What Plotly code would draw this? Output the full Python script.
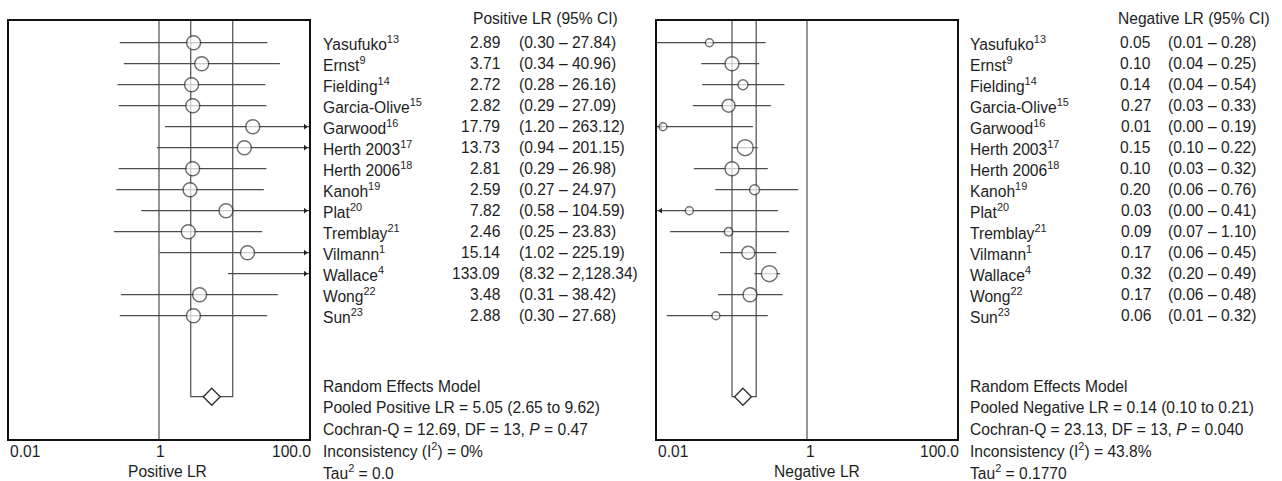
import plotly.graph_objects as go

# ---------------- data ----------------
studies = ["Yasufuko<sup>13</sup>", "Ernst<sup>9</sup>", "Fielding<sup>14</sup>",
           "Garcia-Olive<sup>15</sup>", "Garwood<sup>16</sup>", "Herth 2003<sup>17</sup>",
           "Herth 2006<sup>18</sup>", "Kanoh<sup>19</sup>", "Plat<sup>20</sup>",
           "Tremblay<sup>21</sup>", "Vilmann<sup>1</sup>", "Wallace<sup>4</sup>",
           "Wong<sup>22</sup>", "Sun<sup>23</sup>"]

# printed table values
pos_lr = [2.89, 3.71, 2.72, 2.82, 17.79, 13.73, 2.81, 2.59, 7.82, 2.46, 15.14, 133.09, 3.48, 2.88]
pos_lo = [0.30, 0.34, 0.28, 0.29, 1.20, 0.94, 0.29, 0.27, 0.58, 0.25, 1.02, 8.32, 0.31, 0.30]
pos_hi = [27.84, 40.96, 26.16, 27.09, 263.12, 201.15, 26.98, 24.97, 104.59, 23.83, 225.19, 2128.34, 38.42, 27.68]

neg_lr = [0.05, 0.10, 0.14, 0.27, 0.01, 0.15, 0.10, 0.20, 0.03, 0.09, 0.17, 0.32, 0.17, 0.06]
neg_lo = [0.01, 0.04, 0.04, 0.03, 0.00, 0.10, 0.03, 0.06, 0.00, 0.07, 0.06, 0.20, 0.06, 0.01]
neg_hi = [0.28, 0.25, 0.54, 0.33, 0.19, 0.22, 0.32, 0.76, 0.41, 1.10, 0.45, 0.49, 0.48, 0.32]

neg_est_drawn = [0.05, 0.10, 0.14, 0.09, 0.012, 0.15, 0.10, 0.20, 0.027, 0.09, 0.165, 0.315, 0.174, 0.061]
neg_lo_drawn = [0.01, 0.039, 0.04, 0.03, 0.00, 0.10, 0.031, 0.06, 0.00, 0.015, 0.069, 0.198, 0.065, 0.0135]
neg_hi_drawn = [0.28, 0.23, 0.50, 0.33, 0.19, 0.22, 0.30, 0.76, 0.41, 0.575, 0.39, 0.436, 0.474, 0.30]

# relative study weights (negative LR panel); positive LR weights are equal
neg_weight = [8, 14, 10, 13, 8, 16, 14, 10, 8, 8.5, 13, 16, 14, 8]
pos_weight = [14] * 14

pos_pooled = (5.05, 2.65, 9.62)
neg_pooled = (0.14, 0.10, 0.21)

axis_ticks = ["0.01", "1", "100.0"]

pos_stats = ["Random Effects Model",
             "Pooled Positive LR = 5.05 (2.65 to 9.62)",
             "Cochran-Q = 12.69, DF = 13, <i>P</i> = 0.47",
             "Inconsistency (I<sup>2</sup>) = 0%",
             "Tau<sup>2</sup> = 0.0"]
neg_stats = ["Random Effects Model",
             "Pooled Negative LR = 0.14 (0.10 to 0.21)",
             "Cochran-Q = 23.13, DF = 13, <i>P</i> = 0.040",
             "Inconsistency (I<sup>2</sup>) = 43.8%",
             "Tau<sup>2</sup> = 0.1770"]

# ---------------- layout geometry ----------------
W, H = 1282, 481
TOP, BOT = 21, 439
ROW0, ROWH = 42.7, 21.0
XMIN, XMAX = 0.01, 100.0
FONT = "Liberation Sans, Arial, Helvetica, sans-serif"
FS = 15.6
TXT = "#1e1e1e"
LINE = "#4d4d4d"
MARK = "#333333"

y_top = (TOP - ROW0) / ROWH
y_bot = (BOT - ROW0) / ROWH
pooled_row = (396.7 - ROW0) / ROWH


def py(px):
    return (BOT - px) / (BOT - TOP)


def pxx(px):
    return px / W


panels = [
    dict(xa="x", ya="y", est=pos_lr, lo=pos_lo, hi=pos_hi, w=pos_weight,
         pooled=pos_pooled, title="Positive LR", head="Positive LR (95% CI)",
         lab=(pos_lr, pos_lo, pos_hi), stats=pos_stats,
         name_x=321, val_x=502, ci_x=517, head_x=471, stat_x=321,
         tick_px=(8, 161, 313), title_px=167),
    dict(xa="x2", ya="y2", est=neg_est_drawn, lo=neg_lo_drawn, hi=neg_hi_drawn,
         w=neg_weight, pooled=neg_pooled, title="Negative LR", head="Negative LR (95% CI)",
         lab=(neg_lr, neg_lo, neg_hi), stats=neg_stats,
         name_x=968, val_x=1153, ci_x=1166, head_x=1116, stat_x=968,
         tick_px=(656, 810, 961), title_px=817),
]

fig = go.Figure()
annotations = []
arrow_off = 0.05  # decades inset of arrow heads from the frame
tfont = dict(family=FONT, size=FS, color=TXT)

for p in panels:
    xa, ya = p["xa"], p["ya"]
    n = len(p["est"])
    fig.add_trace(go.Scatter(x=[1, 1], y=[y_top - 1, y_bot + 1], mode="lines",
                             line=dict(color=LINE, width=1.2), xaxis=xa, yaxis=ya,
                             hoverinfo="skip", showlegend=False))
    pe, plo, phi = p["pooled"]
    fig.add_trace(go.Scatter(x=[plo, plo, phi, phi], y=[y_top - 1, pooled_row, pooled_row, y_top - 1],
                             mode="lines", line=dict(color=LINE, width=1.2), xaxis=xa, yaxis=ya,
                             hoverinfo="skip", showlegend=False))
    lx, ly, ax_r, ay_r, ax_l, ay_l = [], [], [], [], [], []
    for i in range(n):
        lo = max(p["lo"][i], XMIN)
        hi = min(p["hi"][i], XMAX)
        lx += [lo, hi, None]
        ly += [i, i, None]
        if p["hi"][i] > XMAX:
            ax_r.append(10 ** (2 - arrow_off)); ay_r.append(i)
        if p["lo"][i] < XMIN:
            ax_l.append(10 ** (-2 + arrow_off)); ay_l.append(i)
    fig.add_trace(go.Scatter(x=lx, y=ly, mode="lines", line=dict(color=LINE, width=1.2),
                             xaxis=xa, yaxis=ya, hoverinfo="skip", showlegend=False))
    if ax_r:
        fig.add_trace(go.Scatter(x=ax_r, y=ay_r, mode="markers",
                                 marker=dict(symbol="triangle-right", size=5, color="#222"),
                                 xaxis=xa, yaxis=ya, hoverinfo="skip", showlegend=False))
    if ax_l:
        fig.add_trace(go.Scatter(x=ax_l, y=ay_l, mode="markers",
                                 marker=dict(symbol="triangle-left", size=5, color="#222"),
                                 xaxis=xa, yaxis=ya, hoverinfo="skip", showlegend=False))
    ex, ey, es = [], [], []
    for i in range(n):
        if XMIN <= p["est"][i] <= XMAX:
            ex.append(p["est"][i]); ey.append(i); es.append(p["w"][i])
    fig.add_trace(go.Scatter(x=ex, y=ey, mode="markers",
                             marker=dict(symbol="circle", size=es, color="white",
                                         line=dict(color=MARK, width=1.4)),
                             xaxis=xa, yaxis=ya, hoverinfo="skip", showlegend=False))
    fig.add_trace(go.Scatter(x=[pe], y=[pooled_row], mode="markers",
                             marker=dict(symbol="diamond", size=13, color="white",
                                         line=dict(color=MARK, width=1.4)),
                             xaxis=xa, yaxis=ya, hoverinfo="skip", showlegend=False))

    yref = "y" if ya == "y" else "y2"
    vals, los, his = p["lab"]
    annotations.append(dict(x=pxx(p["head_x"]), y=py(18.3), xref="paper", yref="paper",
                            text=p["head"], xanchor="left", yanchor="middle", showarrow=False,
                            font=tfont))
    for i in range(n):
        annotations.append(dict(x=pxx(p["name_x"]), y=i, xref="paper", yref=yref,
                                text=studies[i], xanchor="left", yanchor="middle",
                                showarrow=False, font=tfont))
        annotations.append(dict(x=pxx(p["val_x"]), y=i, xref="paper", yref=yref,
                                text=f"{vals[i]:.2f}", xanchor="right", yanchor="middle",
                                showarrow=False, font=tfont))
        annotations.append(dict(x=pxx(p["ci_x"]), y=i, xref="paper", yref=yref,
                                text=f"({los[i]:.2f} \u2013 {his[i]:,.2f})", xanchor="left",
                                yanchor="middle", showarrow=False, font=tfont))
    for k, s in enumerate(p["stats"]):
        annotations.append(dict(x=pxx(p["stat_x"]), y=py(386.7 + 21.25 * k), xref="paper",
                                yref="paper", text=s, xanchor="left", yanchor="middle",
                                showarrow=False, font=tfont))
    t0, t1, t2 = p["tick_px"]
    for tx, tt, anc in ((t0, axis_ticks[0], "left"), (t1, axis_ticks[1], "center"),
                        (t2, axis_ticks[2], "right")):
        annotations.append(dict(x=pxx(tx), y=py(451.5), xref="paper", yref="paper", text=tt,
                                xanchor=anc, yanchor="middle", showarrow=False, font=tfont))
    annotations.append(dict(x=pxx(p["title_px"]), y=py(471), xref="paper", yref="paper",
                            text=p["title"], xanchor="center", yanchor="middle",
                            showarrow=False, font=tfont))

frame = dict(showline=True, mirror=True, linewidth=2.4, linecolor="#111",
             showgrid=False, zeroline=False, ticks="", showticklabels=False)

fig.update_layout(
    width=W, height=H,
    margin=dict(l=0, r=0, t=TOP, b=H - BOT, pad=0),
    paper_bgcolor="white", plot_bgcolor="white",
    font=dict(family=FONT, size=FS, color=TXT),
    xaxis=dict(type="log", range=[-2, 2], domain=[pxx(9), pxx(309)], anchor="y", **frame),
    yaxis=dict(range=[y_bot, y_top], domain=[0, 1], anchor="x", **frame),
    xaxis2=dict(type="log", range=[-2, 2], domain=[pxx(657), pxx(957)], anchor="y2", **frame),
    yaxis2=dict(range=[y_bot, y_top], domain=[0, 1], anchor="x2", **frame),
    annotations=annotations,
    showlegend=False,
    hovermode=False,
)

fig.write_html("out.html", config={"displayModeBar": False, "staticPlot": True},
               post_script="document.body.style.margin='0';document.body.style.overflow='hidden';")
